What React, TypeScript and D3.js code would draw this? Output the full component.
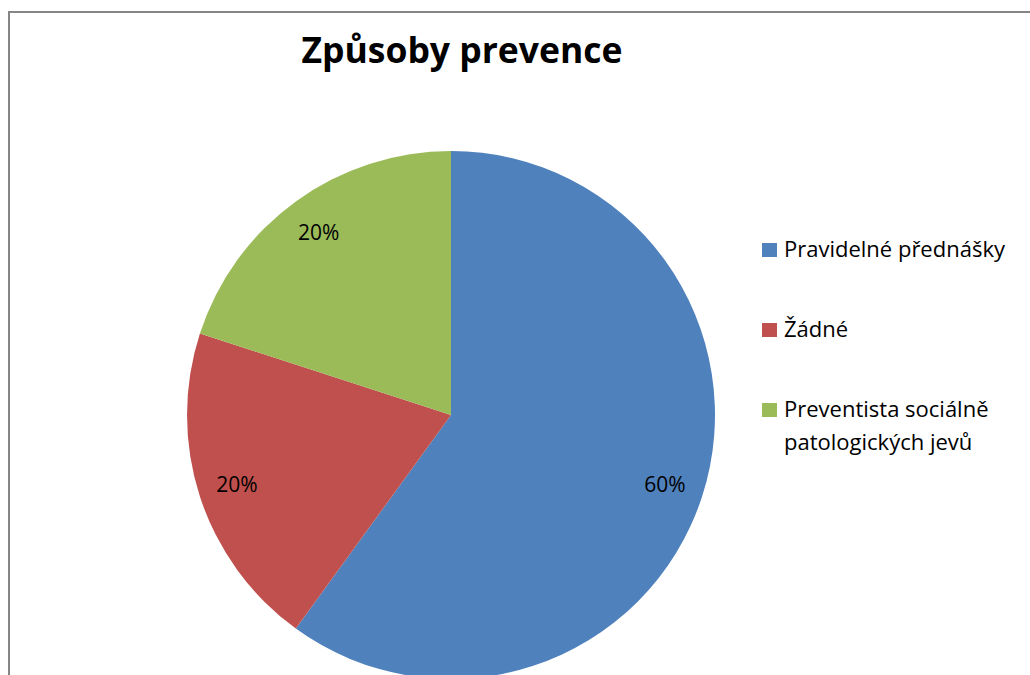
import React, { useEffect, useRef } from 'react';
import * as d3 from 'd3';

// kategorie a podíly (v %)
const categories = ['Pravidelné přednášky', 'Žádné', 'Preventista sociálně patologických jevů'];
const values = [60, 20, 20];
const colors = ['#4F81BD', '#C0504D', '#9BBB59'];
// legenda - zalomené řádky
const legendLines = [['Pravidelné přednášky'], ['Žádné'], ['Preventista sociálně', 'patologických jevů']];

const FONT = '"Open Sans", sans-serif';

const App = () => {
  const svgRef = useRef<SVGSVGElement>(null);

  useEffect(() => {
    const width = 1030;
    const height = 675;
    const cx = 451;
    const cy = 415;
    const radius = 264;

    const svg = d3.select(svgRef.current)
      .attr('width', width)
      .attr('height', height);
    svg.selectAll('*').remove();

    // okraj grafu
    svg.append('rect')
      .attr('x', 9)
      .attr('y', 12)
      .attr('width', 1100)
      .attr('height', 800)
      .attr('fill', '#fff')
      .attr('stroke', '#868686')
      .attr('stroke-width', 2);

    svg.append('text')
      .attr('x', 462)
      .attr('y', 63)
      .attr('text-anchor', 'middle')
      .style('font-family', FONT)
      .style('font-size', '35.5px')
      .style('font-weight', 'bold')
      .text('Způsoby prevence');

    const pie = d3.pie<number>().sort(null).value(d => d);
    const arcs = pie(values);
    const arc = d3.arc<d3.PieArcDatum<number>>().innerRadius(0).outerRadius(radius);
    const labelArc = d3.arc<d3.PieArcDatum<number>>().innerRadius(225).outerRadius(225);

    const g = svg.append('g').attr('transform', `translate(${cx},${cy})`);

    g.selectAll('path')
      .data(arcs)
      .join('path')
      .attr('d', arc)
      .attr('fill', (d, i) => colors[i]);

    g.selectAll('text')
      .data(arcs)
      .join('text')
      .attr('transform', d => `translate(${labelArc.centroid(d)})`)
      .attr('text-anchor', 'middle')
      .attr('dy', '0.35em')
      .style('font-family', FONT)
      .style('font-size', '21px')
      .text(d => `${d.data}%`);

    // legenda
    const legendY = [257, 337, 417];
    const legend = svg.selectAll('.legend')
      .data(categories)
      .join('g')
      .attr('class', 'legend')
      .attr('transform', (d, i) => `translate(762, ${legendY[i]})`);

    legend.append('rect')
      .attr('x', 0)
      .attr('y', -14)
      .attr('width', 15)
      .attr('height', 14)
      .attr('fill', (d, i) => colors[i]);

    legend.append('text')
      .style('font-family', FONT)
      .style('font-size', '22px')
      .selectAll('tspan')
      .data((d, i) => legendLines[i])
      .join('tspan')
      .attr('x', 22)
      .attr('y', (d, j) => j * 33)
      .text(d => d);
  }, []);

  return (
    <svg ref={svgRef} style={{ position: 'absolute', left: 0, top: 0 }}></svg>
  );
};

export default App;
